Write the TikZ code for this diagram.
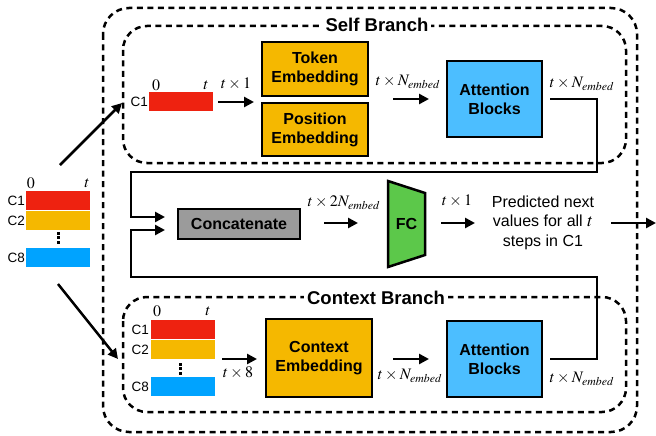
\documentclass[tikz,border=0pt]{standalone}
\usepackage{mathptmx}
\usepackage[no-math]{fontspec}
\setmainfont{Liberation Sans}
\usetikzlibrary{arrows.meta}
\definecolor{cred}{HTML}{EE2210}
\definecolor{corange}{HTML}{F5B800}
\definecolor{cblue}{HTML}{00A3FF}
\definecolor{attblue}{HTML}{4CBEFF}
\definecolor{fcgreen}{HTML}{5CC84A}
\definecolor{cgray}{HTML}{9B9B9B}
\begin{document}
\begin{tikzpicture}[x=1pt,y=-1pt,
  box/.style={draw=black, line width=2.5pt, align=center, inner sep=0pt,
    font=\bfseries\fontsize{16}{19}\selectfont},
  bar/.style={inner sep=0pt, minimum width=64pt, minimum height=19pt},
  clab/.style={anchor=east, inner sep=0pt, font=\fontsize{13.5}{14}\selectfont},
  mlab/.style={inner sep=0pt, font=\fontsize{16}{16}\selectfont},
  arr/.style={line width=2.5pt, -{Triangle[length=10pt,width=10pt]}},
  fb/.style={line width=2.5pt},
  dbox/.style={line width=2.5pt, dash pattern=on 6pt off 4.5pt},
  seclab/.style={fill=white, inner xsep=3pt, inner ysep=1pt,
    font=\bfseries\fontsize{18.5}{20}\selectfont}
]
\useasboundingbox (0,0) rectangle (656,436);

% dashed containers
\draw[dbox, rounded corners=26pt] (103,8) rectangle (637,432);
\draw[dbox, rounded corners=24pt] (123,26) rectangle (626,163);
\draw[dbox, rounded corners=24pt] (123,297) rectangle (626,412);
\node[seclab] (selflab) at (377,25) {Self Branch};
\node[seclab] (ctxlab) at (376,298) {Context Branch};

% input block (left)
\node[bar, fill=cred] (in1) at (58,200.5) {};
\node[bar, fill=corange] (in2) at (58,220.5) {};
\node[bar, fill=cblue] (in8) at (58,257.5) {};
\node[clab] (in1l) at (25,200.5) {C1};
\node[clab] (in2l) at (25,220.5) {C2};
\node[clab] (in8l) at (25,257.5) {C8};
\node[mlab] (in0) at (31,183) {\(0\)};
\node[mlab] (int) at (87,183) {\(t\)};
\foreach \yy in {233,237.5,242} \fill (56.5,\yy-1.5) rectangle (59.5,\yy+1.5);

% self branch input
\node[bar, fill=cred] (s1) at (181,101.5) {};
\node[clab] (s1l) at (148,102) {C1};
\node[mlab] (s0) at (156,85) {\(0\)};
\node[mlab] (st) at (206,85) {\(t\)};

% context branch input
\node[bar, fill=cred] (c1) at (183,329.5) {};
\node[bar, fill=corange] (c2) at (183,349.5) {};
\node[bar, fill=cblue] (c8) at (183,386.5) {};
\node[clab] (c1l) at (149,330) {C1};
\node[clab] (c2l) at (149,350) {C2};
\node[clab] (c8l) at (149,387) {C8};
\node[mlab] (c0) at (157,311) {\(0\)};
\node[mlab] (ct) at (208,311) {\(t\)};
\foreach \yy in {364,368.5,373} \fill (178.5,\yy-1.5) rectangle (181.5,\yy+1.5);

% self branch boxes
\node[box, fill=corange, minimum width=106pt, minimum height=54pt] (tok) at (315,69) {Token\\Embedding};
\node[box, fill=corange, minimum width=106pt, minimum height=53pt] (pos) at (315,129.5) {Position\\Embedding};
\node[box, fill=attblue, minimum width=95pt, minimum height=76pt] (attS) at (494.5,99) {Attention\\Blocks};

% context branch boxes
\node[box, fill=corange, minimum width=106pt, minimum height=78pt] (ctxE) at (319,358) {Context\\Embedding};
\node[box, fill=attblue, minimum width=95pt, minimum height=76pt] (attC) at (494.5,359) {Attention\\Blocks};

% middle row
\node[box, fill=cgray, minimum width=122pt, minimum height=30pt] (cat) at (239,224) {Concatenate};
\draw[line width=2.5pt, fill=fcgreen] (388,181) -- (425,193) -- (425,255) -- (388,267) -- cycle;
\node[inner sep=0pt, font=\bfseries\fontsize{16}{19}\selectfont] (fc) at (406.5,224) {FC};
\node[align=center, inner sep=0pt, font=\fontsize{16}{19.5}\selectfont] (pred) at (543,222.5) {Predicted next\\values for all {\fontsize{18}{19.5}\selectfont\(t\)}\\steps in C1};

% labels
\node[mlab] (l1) at (236,84) {\(t\times 1\)};
\node[mlab] (l2) at (408,82) {\(t\times N_{embed}\)};
\node[mlab] (l3) at (582,84) {\(t\times N_{embed}\)};
\node[mlab] (l4) at (344,203) {\(t\times 2N_{embed}\)};
\node[mlab] (l5) at (457,201) {\(t\times 1\)};
\node[mlab] (l6) at (238,373) {\(t\times 8\)};
\node[mlab] (l7) at (410,376) {\(t\times N_{embed}\)};
\node[mlab] (l8) at (582,379) {\(t\times N_{embed}\)};

% coordinates
\coordinate (inTop) at (60,165);
\coordinate (inBot) at (58,284);
\coordinate (sTip) at (122,103);
\coordinate (cTip) at (118,359);
\coordinate (a1s) at (218,102);
\coordinate (a1e) at (254,102);
\coordinate (a2s) at (393,99);
\coordinate (a2e) at (429,99);
\coordinate (a3s) at (222,359);
\coordinate (a3e) at (257,359);
\coordinate (a4s) at (393,359);
\coordinate (a4e) at (429,359);
\coordinate (a5s) at (324,223);
\coordinate (a5e) at (358,223);
\coordinate (a6s) at (441,223);
\coordinate (a6e) at (475,223);
\coordinate (a7s) at (611,223);
\coordinate (a7e) at (656,223);
\coordinate (catIn1) at (165,217);
\coordinate (catIn2) at (165,230);

% connectors
\draw[arr] (inTop) -- (sTip);
\draw[arr] (inBot) -- (cTip);
\draw[arr] (a1s) -- (a1e);
\draw[arr] (a2s) -- (a2e);
\draw[arr] (a3s) -- (a3e);
\draw[arr] (a4s) -- (a4e);
\draw[arr] (a5s) -- (a5e);
\draw[arr] (a6s) -- (a6e);
\draw[arr] (a7s) -- (a7e);

\draw[fb, -{Triangle[length=10pt,width=10pt]}] ([xshift=7pt]attS.east) -- (597,99) -- (597,172) -- (131,172) -- (131,217) -- (catIn1);
\draw[fb, -{Triangle[length=10pt,width=10pt]}] ([xshift=7pt]attC.east) -- (597,359) -- (597,277) -- (131,277) -- (131,230) -- (catIn2);
\end{tikzpicture}
\end{document}
